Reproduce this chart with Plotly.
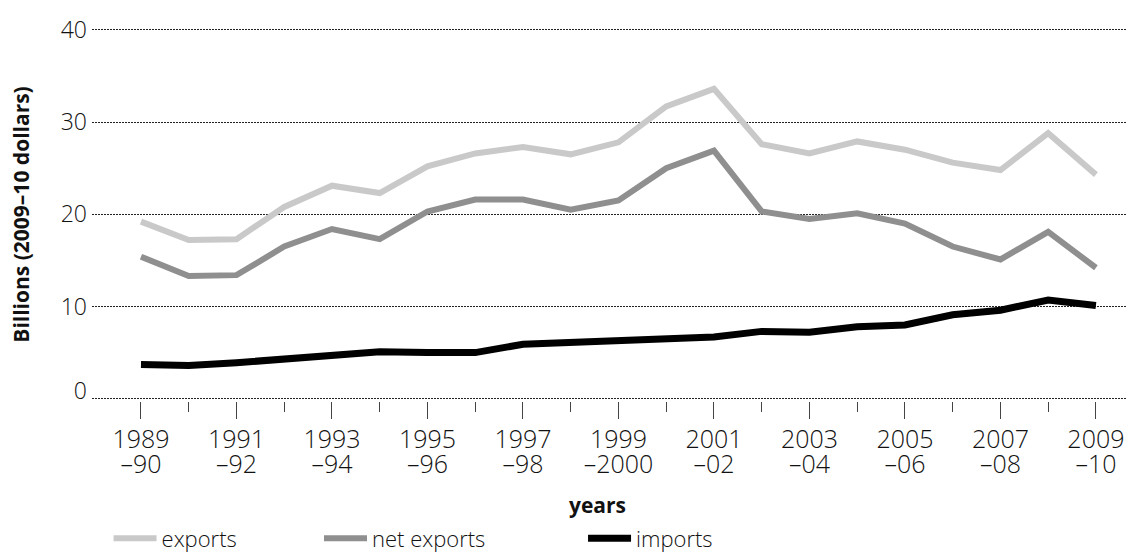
import plotly.graph_objects as go

periods = ["1989–90", "1990–91", "1991–92", "1992–93", "1993–94", "1994–95", "1995–96",
           "1996–97", "1997–98", "1998–99", "1999–2000", "2000–01", "2001–02", "2002–03",
           "2003–04", "2004–05", "2005–06", "2006–07", "2007–08", "2008–09", "2009–10"]
exports = [19.2, 17.2, 17.3, 20.8, 23.1, 22.3, 25.2, 26.6, 27.3, 26.5, 27.8,
           31.7, 33.6, 27.6, 26.6, 27.9, 27.0, 25.6, 24.8, 28.8, 24.3]
net_exports = [15.4, 13.3, 13.4, 16.5, 18.4, 17.3, 20.3, 21.6, 21.6, 20.5, 21.5,
               25.0, 26.9, 20.3, 19.5, 20.1, 19.0, 16.5, 15.1, 18.1, 14.2]
imports = [3.7, 3.6, 3.9, 4.3, 4.6, 5.1, 5.0, 5.0, 5.9, 6.1, 6.3,
           6.5, 6.7, 7.3, 7.2, 7.8, 8.0, 9.1, 9.6, 10.7, 10.1]
label_top = ["1989", "1991", "1993", "1995", "1997", "1999", "2001", "2003", "2005", "2007", "2009"]
label_bottom = ["–90", "–92", "–94", "–96", "–98", "–2000", "–02", "–04", "–06", "–08", "–10"]
y_ticks = [10, 20, 30, 40]
y_zero = [0]

idx = list(range(len(periods)))
FONT = "Open Sans"
XRANGE = [-1.026, 20.63]
YRANGE = [-0.25, 40.2]

fig = go.Figure()
fig.add_trace(go.Scatter(x=idx, y=exports, mode="lines", name="exports",
                         line=dict(color="#c9c9c9", width=6), legend="legend"))
fig.add_trace(go.Scatter(x=idx, y=net_exports, mode="lines", name="net exports",
                         line=dict(color="#8f8f8f", width=6), legend="legend2"))
fig.add_trace(go.Scatter(x=idx, y=imports, mode="lines", name="imports",
                         line=dict(color="#000000", width=7), legend="legend3"))
# carrier for the helper axes (second line of period labels, raised "0" label)
fig.add_trace(go.Scatter(x=idx, y=imports, mode="lines", xaxis="x2", yaxis="y2",
                         opacity=0, showlegend=False, hoverinfo="skip",
                         line=dict(width=0)))

leg_common = dict(orientation="h", yanchor="middle", xanchor="left",
                  xref="container", yref="container", y=0.0245,
                  font=dict(family=FONT, size=22, color="#111", weight=300),
                  bgcolor="rgba(0,0,0,0)", itemwidth=43)

tickfont_x = dict(family=FONT, size=25, color="#111", weight=300)
tickfont_y = dict(family=FONT, size=23, color="#111", weight=300)

fig.update_layout(
    width=1126, height=552,
    margin=dict(l=92, r=0, t=28, b=151),
    paper_bgcolor="white", plot_bgcolor="white",
    showlegend=True,
    legend=dict(x=0.0964, **leg_common),
    legend2=dict(x=0.2833, **leg_common),
    legend3=dict(x=0.5178, **leg_common),
    font=dict(family=FONT, color="#111"),
    xaxis=dict(
        range=XRANGE, automargin=False,
        tickmode="array", tickvals=idx[::2], ticktext=label_top,
        ticks="outside", ticklen=17, tickwidth=1, tickcolor="#444",
        minor=dict(tickmode="array", tickvals=idx[1::2], ticks="outside", ticklen=10,
                   tickwidth=1, tickcolor="#444", showgrid=False),
        showgrid=False, zeroline=False, showline=False,
        tickfont=tickfont_x, ticklabelstandoff=-1,
    ),
    xaxis2=dict(
        overlaying="x", anchor="y", side="bottom",
        range=XRANGE, automargin=False,
        tickmode="array", tickvals=idx[::2], ticktext=label_bottom,
        ticks="", showgrid=False, zeroline=False, showline=False,
        tickfont=tickfont_x, ticklabelstandoff=46,
    ),
    yaxis=dict(
        range=YRANGE, automargin=False,
        tickmode="array", tickvals=y_ticks + y_zero, ticktext=[str(v) for v in y_ticks] + [""],
        showgrid=True, gridcolor="#222", gridwidth=1, griddash="2px,1px",
        zeroline=False, showline=False, ticks="",
        ticklabelstandoff=4,
        tickfont=tickfont_y,
        title=dict(text="Billions (2009–10 dollars)",
                   font=dict(family=FONT, size=21, color="#111", weight="bold"),
                   standoff=25),
    ),
    yaxis2=dict(
        overlaying="y", anchor="x", side="left",
        range=YRANGE, automargin=False,
        tickmode="array", tickvals=y_zero,
        showgrid=False, zeroline=False, showline=False, ticks="",
        ticklabelstandoff=4, ticklabelshift=-8,
        tickfont=tickfont_y,
    ),
    annotations=[dict(text="years", xref="paper", yref="paper", x=0.4884, y=-0.279,
                      xanchor="center", yanchor="middle", showarrow=False,
                      font=dict(family=FONT, size=21, color="#111", weight="bold"))],
)

fig.write_html("out.html", config={"displayModeBar": False},
               post_script="document.body.style.margin='0';")
